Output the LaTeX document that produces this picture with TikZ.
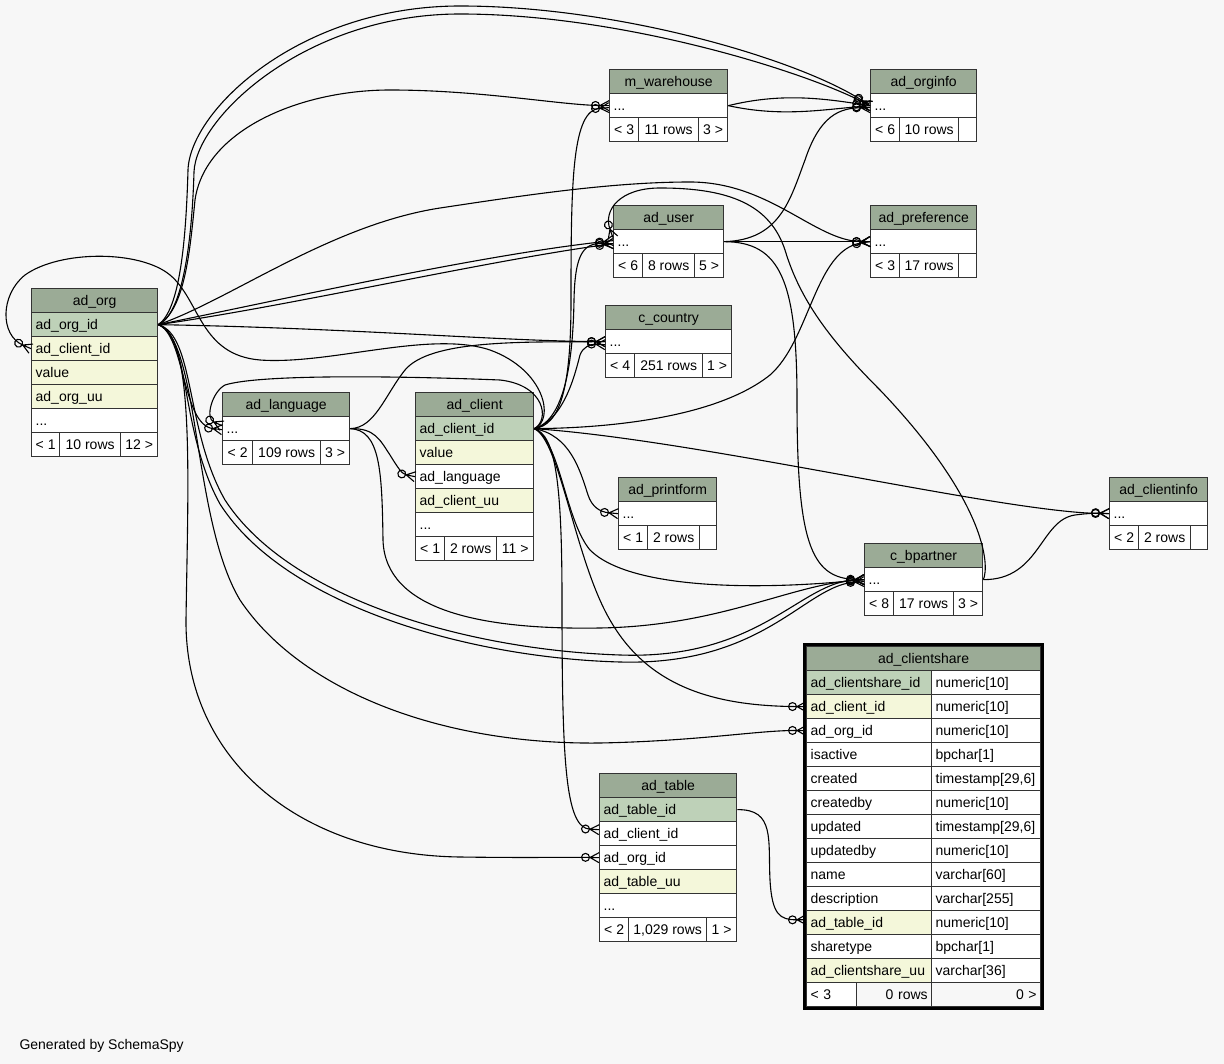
\documentclass[tikz,border=0pt]{standalone}
\usepackage{fontspec}
\setmainfont{Liberation Sans}
\usetikzlibrary{arrows.meta}
\definecolor{paper}{HTML}{F7F7F7}
\definecolor{headgreen}{HTML}{9BAB96}
\definecolor{keygreen}{HTML}{BED1B8}
\definecolor{idxyellow}{HTML}{F4F7DA}
\definecolor{frame}{HTML}{333333}

\pgfdeclarearrow{
  name = Crow,
  parameters = {\the\pgfarrowlength,\the\pgfarrowwidth,\the\pgfarrowlinewidth},
  setup code = {
    \pgfarrowssettipend{\pgfarrowlength}
    \pgfarrowssetbackend{0pt}
    \pgfarrowssetlineend{0pt}
    \pgfarrowssavethe\pgfarrowlength
    \pgfarrowssavethe\pgfarrowwidth
  },
  drawing code = {
    \pgfsetdash{}{0pt}
    \pgfpathmoveto{\pgfqpoint{\pgfarrowlength}{.5\pgfarrowwidth}}
    \pgfpathlineto{\pgfpointorigin}
    \pgfpathlineto{\pgfqpoint{\pgfarrowlength}{-.5\pgfarrowwidth}}
    \pgfpathmoveto{\pgfpointorigin}
    \pgfpathlineto{\pgfqpoint{\pgfarrowlength}{0pt}}
    \pgfusepathqstroke
  },
  defaults = {length=9pt, width=10pt}
}

\newcommand{\tcell}[6]{%
  \pgfmathsetmacro{\tw}{#4-8}%
  \node[cell,#5,minimum width=#4pt,text width=\tw pt] (#1) at (#2,#3) {#6};}

\begin{document}
\begin{tikzpicture}[x=1pt,y=-1pt,
  cell/.style={draw=frame,line width=1.3pt,anchor=north west,minimum height=24pt,
    inner xsep=4pt,inner ysep=0pt,text height=10pt,text depth=0pt,
    font=\fontsize{14}{17}\selectfont},
  hdr/.style={cell,fill=headgreen,align=center},
  pk/.style={fill=keygreen,align=left},
  idx/.style={fill=idxyellow,align=left},
  plain/.style={fill=white,align=left},
  foot/.style={cell,fill=white,inner xsep=1pt},
  rel/.style={line width=1.1pt,
    -{Circle[open,length=9pt,width=9pt] Crow[length=9pt,width=10pt]}}]
\useasboundingbox (0,0) rectangle (1224,1064);
\fill[paper] (0,0) rectangle (1224,1064);

% ad_org
\node[hdr,minimum width=126pt] (org) at (31,288) {ad\_org};
\tcell{orgid}{31}{312}{126}{pk}{ad\_org\_id}
\tcell{orgcli}{31}{336}{126}{idx}{ad\_client\_id}
\tcell{orgval}{31}{360}{126}{idx}{value}
\tcell{orguu}{31}{384}{126}{idx}{ad\_org\_uu}
\tcell{orgdots}{31}{408}{126}{plain}{...}
\node[foot,minimum width=28pt] (orgf1) at (31,432) {< 1};
\node[foot,minimum width=61pt] (orgf2) at (59,432) {10 rows};
\node[foot,minimum width=37pt] (orgf3) at (120,432) {12 >};

% ad_language
\node[hdr,minimum width=127pt] (lang) at (222,392) {ad\_language};
\tcell{langdots}{222}{416}{127}{plain}{...}
\node[foot,minimum width=30pt] (langf1) at (222,440) {< 2};
\node[foot,minimum width=68pt] (langf2) at (252,440) {109 rows};
\node[foot,minimum width=29pt] (langf3) at (320,440) {3 >};

% ad_client
\node[hdr,minimum width=118pt] (cli) at (415,392) {ad\_client};
\tcell{cliid}{415}{416}{118}{pk}{ad\_client\_id}
\tcell{clival}{415}{440}{118}{idx}{value}
\tcell{clilang}{415}{464}{118}{plain}{ad\_language}
\tcell{cliuu}{415}{488}{118}{idx}{ad\_client\_uu}
\tcell{clidots}{415}{512}{118}{plain}{...}
\node[foot,minimum width=29pt] (clif1) at (415,536) {< 1};
\node[foot,minimum width=52pt] (clif2) at (444,536) {2 rows};
\node[foot,minimum width=37pt] (clif3) at (496,536) {11 >};

% m_warehouse
\node[hdr,minimum width=118pt] (wh) at (609,69) {m\_warehouse};
\tcell{whdots}{609}{93}{118}{plain}{...}
\node[foot,minimum width=29pt] (whf1) at (609,117) {< 3};
\node[foot,minimum width=60pt] (whf2) at (638,117) {11 rows};
\node[foot,minimum width=29pt] (whf3) at (698,117) {3 >};

% ad_orginfo
\node[hdr,minimum width=106pt] (oi) at (870,69) {ad\_orginfo};
\tcell{oidots}{870}{93}{106}{plain}{...}
\node[foot,minimum width=29pt] (oif1) at (870,117) {< 6};
\node[foot,minimum width=59pt] (oif2) at (899,117) {10 rows};
\node[foot,minimum width=18pt] (oif3) at (958,117) {};

% ad_user
\node[hdr,minimum width=110pt] (usr) at (613,205) {ad\_user};
\tcell{usrdots}{613}{229}{110}{plain}{...}
\node[foot,minimum width=29pt] (usrf1) at (613,253) {< 6};
\node[foot,minimum width=52pt] (usrf2) at (642,253) {8 rows};
\node[foot,minimum width=29pt] (usrf3) at (694,253) {5 >};

% ad_preference
\node[hdr,minimum width=106pt] (pref) at (870,205) {ad\_preference};
\tcell{prefdots}{870}{229}{106}{plain}{...}
\node[foot,minimum width=29pt] (preff1) at (870,253) {< 3};
\node[foot,minimum width=59pt] (preff2) at (899,253) {17 rows};
\node[foot,minimum width=18pt] (preff3) at (958,253) {};

% c_country
\node[hdr,minimum width=126pt] (cty) at (605,305) {c\_country};
\tcell{ctydots}{605}{329}{126}{plain}{...}
\node[foot,minimum width=29pt] (ctyf1) at (605,353) {< 4};
\node[foot,minimum width=68pt] (ctyf2) at (634,353) {251 rows};
\node[foot,minimum width=29pt] (ctyf3) at (702,353) {1 >};

% ad_printform
\node[hdr,minimum width=98pt] (pf) at (618,477) {ad\_printform};
\tcell{pfdots}{618}{501}{98}{plain}{...}
\node[foot,minimum width=29pt] (pff1) at (618,525) {< 1};
\node[foot,minimum width=52pt] (pff2) at (647,525) {2 rows};
\node[foot,minimum width=17pt] (pff3) at (699,525) {};

% c_bpartner
\node[hdr,minimum width=118pt] (bp) at (864,543) {c\_bpartner};
\tcell{bpdots}{864}{567}{118}{plain}{...}
\node[foot,minimum width=29pt] (bpf1) at (864,591) {< 8};
\node[foot,minimum width=60pt] (bpf2) at (893,591) {17 rows};
\node[foot,minimum width=29pt] (bpf3) at (953,591) {3 >};

% ad_clientinfo
\node[hdr,minimum width=98pt] (ci) at (1109,477) {ad\_clientinfo};
\tcell{cidots}{1109}{501}{98}{plain}{...}
\node[foot,minimum width=29pt] (cif1) at (1109,525) {< 2};
\node[foot,minimum width=52pt] (cif2) at (1138,525) {2 rows};
\node[foot,minimum width=17pt] (cif3) at (1190,525) {};

% ad_table
\node[hdr,minimum width=137pt] (tbl) at (599,773) {ad\_table};
\tcell{tblid}{599}{797}{137}{pk}{ad\_table\_id}
\tcell{tblcli}{599}{821}{137}{plain}{ad\_client\_id}
\tcell{tblorg}{599}{845}{137}{plain}{ad\_org\_id}
\tcell{tbluu}{599}{869}{137}{idx}{ad\_table\_uu}
\tcell{tbldots}{599}{893}{137}{plain}{...}
\node[foot,minimum width=29pt] (tblf1) at (599,917) {< 2};
\node[foot,minimum width=78pt] (tblf2) at (628,917) {1,029 rows};
\node[foot,minimum width=30pt] (tblf3) at (706,917) {1 >};

% ad_clientshare
\node[hdr,minimum width=234pt] (cs) at (806,646) {ad\_clientshare};
\foreach \f/\c/\d [count=\i from 0] in {
    ad\_clientshare\_id/keygreen/{numeric[10]},
    ad\_client\_id/idxyellow/{numeric[10]},
    ad\_org\_id/white/{numeric[10]},
    isactive/white/{bpchar[1]},
    created/white/{timestamp[29,6]},
    createdby/white/{numeric[10]},
    updated/white/{timestamp[29,6]},
    updatedby/white/{numeric[10]},
    name/white/{varchar[60]},
    description/white/{varchar[255]},
    ad\_table\_id/idxyellow/{numeric[10]},
    sharetype/white/{bpchar[1]},
    ad\_clientshare\_uu/idxyellow/{varchar[36]}}{
  \tcell{cs\i}{806}{670+24*\i}{125}{plain,fill=\c}{\f}
  \tcell{cst\i}{931}{670+24*\i}{109}{plain}{\d}
}
\tcell{csf1}{806}{982}{50}{plain}{< 3}
\tcell{csf2}{856}{982}{75}{align=right}{0 rows}
\tcell{csf3}{931}{982}{109}{align=right}{0 >}
\draw[line width=3pt] (804,644) rectangle (1042,1008);

\node[anchor=base west,font=\fontsize{14}{17}\selectfont] (credit) at (16,1049) {Generated by SchemaSpy};

% relations from ad_org
\draw[rel] (orgid.east) .. controls (180,310) and (186,240) .. (188,170)
  .. controls (190,110) and (300,6) .. (460,6) .. controls (620,6) and (800,60) .. (oidots.west);
\draw[rel] (orgid.east) .. controls (183,314) and (192,240) .. (194,172)
  .. controls (196,118) and (305,14) .. (460,14) .. controls (620,14) and (800,70) .. (oidots.west);
\draw[rel] (orgid.east) .. controls (185,310) and (190,250) .. (195,200)
  .. controls (205,130) and (300,90) .. (390,90) .. controls (480,90) and (560,105) .. (whdots.west);
\draw[rel] (orgid.east) .. controls (230,300) and (330,225) .. (440,208)
  .. controls (520,196) and (610,182) .. (690,182) .. controls (770,182) and (815,241) .. (prefdots.west);
\draw[rel] (orgid.east) .. controls (280,300) and (480,255) .. ([yshift=1pt]usrdots.west);
\draw[rel] (orgid.east) .. controls (290,306) and (480,262) .. ([yshift=-2pt]usrdots.west);
\draw[rel] (orgid.east) .. controls (350,328) and (500,341) .. (ctydots.west);
\draw[rel] (orgid.east) .. controls (185,335) and (182,425) .. ([yshift=-1pt]langdots.west);
\draw[rel] (orgid.east) .. controls (195,335) and (185,430) .. (225,500)
  .. controls (290,600) and (470,650) .. (620,655) .. controls (760,660) and (800,582) .. (bpdots.west);
\draw[rel] (orgid.east) .. controls (190,335) and (180,432) .. (220,504)
  .. controls (285,606) and (470,658) .. (620,662) .. controls (765,666) and (805,585) .. ([yshift=-2pt]bpdots.west);
\draw[rel] (orgid.east) .. controls (200,340) and (192,520) .. (240,600)
  .. controls (300,690) and (440,745) .. (600,743) .. controls (700,741) and (760,730) .. (cs2.west);
\draw[rel] (orgid.east) .. controls (195,335) and (188,480) .. (186,620)
  .. controls (185,760) and (300,855) .. (460,857) .. controls (530,858) and (570,857) .. (tblorg.west);

% relations from ad_client
\draw[rel] (cliid.east) .. controls (555,420) and (545,370) .. (490,350)
  .. controls (430,330) and (330,365) .. (260,360) .. controls (200,355) and (200,300) .. (170,275)
  .. controls (140,250) and (60,250) .. (25,275) .. controls (0,295) and (0,335) .. (orgcli.west);
\draw[rel] (cliid.east) .. controls (550,420) and (545,385) .. (500,380)
  .. controls (400,376) and (260,374) .. (225,385) .. controls (212,392) and (205,418) .. ([yshift=3pt]langdots.west);
\draw[rel] (cliid.east) .. controls (560,425) and (571,390) .. (571,300)
  .. controls (571,180) and (572,110) .. ([yshift=-2pt]whdots.west);
\draw[rel] (cliid.east) .. controls (565,420) and (573,360) .. (574,300)
  .. controls (575,250) and (585,243) .. ([yshift=-2pt]usrdots.west);
\draw[rel] (cliid.east) .. controls (565,420) and (576,370) .. (580,355)
  .. controls (583,347) and (590,344) .. ([yshift=-3pt]ctydots.west);
\draw[rel] (cliid.east) .. controls (620,428) and (720,415) .. (770,375)
  .. controls (810,340) and (815,250) .. (prefdots.west);
\draw[rel] (cliid.east) .. controls (700,440) and (1000,512) .. (cidots.west);
\draw[rel] (cliid.east) .. controls (570,435) and (580,470) .. (588,495)
  .. controls (592,507) and (600,512) .. (pfdots.west);
\draw[rel] (cliid.east) .. controls (560,440) and (565,520) .. (590,550)
  .. controls (630,590) and (760,590) .. (bpdots.west);
\draw[rel] (cliid.east) .. controls (560,440) and (575,560) .. (610,620)
  .. controls (650,690) and (720,706) .. (cs1.west);
\draw[rel] (cliid.east) .. controls (555,435) and (562,480) .. (562,600)
  .. controls (562,760) and (565,828) .. ([yshift=4pt]tblcli.west);

% relations from ad_language
\draw[rel] (langdots.east) .. controls (375,428) and (380,440) .. (390,455)
  .. controls (398,468) and (402,474) .. (clilang.west);
\draw[rel] (langdots.east) .. controls (375,428) and (385,395) .. (405,370)
  .. controls (430,340) and (520,342) .. (ctydots.west);
\draw[rel] (langdots.east) .. controls (380,430) and (382,470) .. (383,540)
  .. controls (385,610) and (480,630) .. (600,628) .. controls (720,626) and (790,585) .. (bpdots.west);

% remaining relations
\draw[rel] (whdots.east) .. controls (780,93) and (820,98) .. (oidots.west);
\draw[rel] (whdots.east) .. controls (780,117) and (820,110) .. (oidots.west);
\draw[rel] (usrdots.east) .. controls (780,240) and (790,200) .. (805,160)
  .. controls (820,115) and (840,108) .. ([yshift=-2pt]oidots.west);
\draw[rel] (usrdots.east) -- (prefdots.west);
\draw[rel] (usrdots.east) .. controls (780,242) and (797,280) .. (797,400)
  .. controls (797,540) and (810,578) .. (bpdots.west);
\draw[rel] (bpdots.east) .. controls (990,565) and (985,500) .. (880,390)
  .. controls (830,340) and (800,300) .. (785,250) .. controls (770,205) and (730,188) .. (660,188)
  .. controls (620,188) and (603,210) .. ([yshift=4pt]usrdots.west);
\draw[rel] (bpdots.east) .. controls (1040,580) and (1040,520) .. (1075,515)
  .. controls (1090,513) and (1100,513) .. (cidots.west);
\draw[rel] (tblid.east) .. controls (775,809) and (768,840) .. (770,880)
  .. controls (772,915) and (780,920) .. ([yshift=3pt]cs10.west);
\end{tikzpicture}
\end{document}
